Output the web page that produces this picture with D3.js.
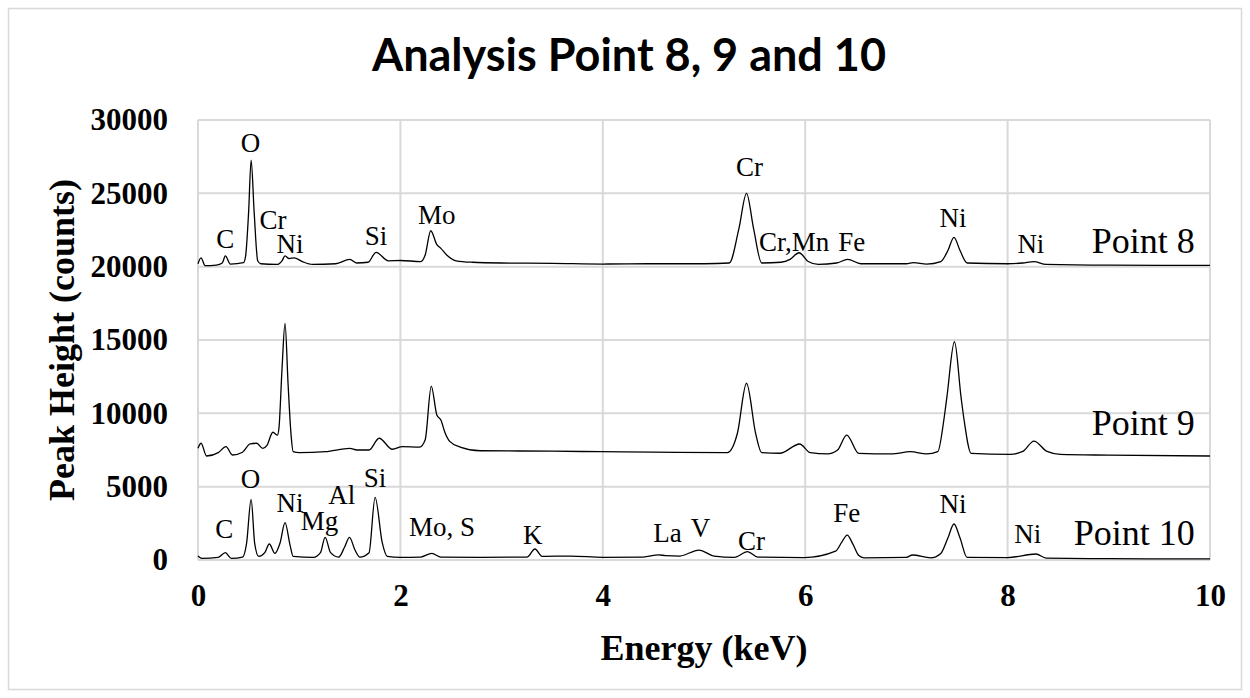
<!DOCTYPE html>
<html>
<head>
<meta charset="utf-8">
<script src="https://cdn.jsdelivr.net/npm/d3@7"></script>
<style>
  html, body { margin: 0; padding: 0; background: #fff; }
  svg { display: block; }
</style>
</head>
<body>
<svg id="chart" width="1250" height="698"></svg>
<script>
// EDS spectra: [energy keV, counts]
const point8 = [
  [0.00, 20200], [0.03, 20600], [0.07, 20070], [0.18, 20110], [0.24, 20250], [0.27, 20730],
  [0.32, 20180], [0.45, 20270], [0.47, 20700], [0.50, 23700], [0.525, 27270], [0.555, 23700],
  [0.59, 20400], [0.62, 20200], [0.78, 20150], [0.83, 20400], [0.86, 20730], [0.90, 20550],
  [0.95, 20600], [1.03, 20350], [1.13, 20150], [1.36, 20200], [1.50, 20500], [1.57, 20250],
  [1.68, 20300], [1.76, 20980], [1.88, 20400], [2.00, 20420], [2.20, 20350], [2.245, 20800],
  [2.30, 22450], [2.36, 21500], [2.40, 21250], [2.45, 20850], [2.55, 20400], [2.71, 20300],
  [3.00, 20250], [3.50, 20230], [4.00, 20180], [4.50, 20200], [5.00, 20200], [5.25, 20250],
  [5.345, 22600], [5.42, 25000], [5.49, 22600], [5.57, 20250], [5.76, 20300], [5.85, 20500],
  [5.94, 20950], [6.03, 20350], [6.13, 20150], [6.31, 20250], [6.42, 20500], [6.55, 20200],
  [7.00, 20200], [7.07, 20280], [7.20, 20180], [7.34, 20350], [7.41, 21100], [7.47, 22000],
  [7.53, 21100], [7.60, 20250], [8.00, 20200], [8.15, 20250], [8.26, 20340], [8.38, 20150],
  [9.00, 20100], [10.00, 20090]
];
const point9 = [
  [0.00, 7615], [0.03, 7960], [0.085, 7090], [0.20, 7320], [0.277, 7730], [0.34, 7160],
  [0.44, 7350], [0.515, 7910], [0.58, 7960], [0.64, 7615], [0.68, 7800], [0.74, 8710],
  [0.785, 8520], [0.80, 9000], [0.83, 13000], [0.86, 16140], [0.89, 12000], [0.92, 8500],
  [0.94, 7385], [1.00, 7320], [1.26, 7385], [1.50, 7615], [1.57, 7500], [1.69, 7500],
  [1.79, 8300], [1.92, 7550], [2.02, 7730], [2.19, 7700], [2.245, 8200], [2.305, 11860],
  [2.36, 9890], [2.40, 9545], [2.44, 8700], [2.49, 8070], [2.59, 7700], [2.79, 7450],
  [3.50, 7420], [3.98, 7385], [4.50, 7350], [5.23, 7320], [5.33, 8640], [5.42, 12050],
  [5.51, 8640], [5.57, 7320], [5.75, 7280], [5.945, 7910], [6.05, 7320], [6.22, 7230],
  [6.32, 7500], [6.41, 8520], [6.53, 7270], [6.85, 7230], [7.04, 7385], [7.20, 7230],
  [7.31, 7385], [7.37, 9545], [7.40, 11100], [7.475, 14880], [7.54, 11100], [7.57, 9545],
  [7.64, 7270], [8.02, 7200], [8.15, 7400], [8.26, 8110], [8.39, 7400], [8.52, 7200],
  [9.00, 7150], [10.00, 7090]
];
const point10 = [
  [0.00, 270], [0.04, 110], [0.20, 180], [0.27, 500], [0.33, 110], [0.44, 200], [0.48, 1140],
  [0.525, 4140], [0.56, 1140], [0.60, 250], [0.66, 500], [0.705, 1090], [0.76, 450],
  [0.81, 1140], [0.86, 2545], [0.91, 1000], [0.94, 250], [1.14, 180], [1.21, 500],
  [1.256, 1545], [1.31, 500], [1.39, 200], [1.45, 900], [1.497, 1545], [1.55, 700],
  [1.60, 200], [1.69, 500], [1.75, 4275], [1.82, 1200], [1.87, 250], [2.00, 180], [2.20, 200],
  [2.31, 455], [2.40, 200], [2.79, 180], [3.25, 200], [3.33, 750], [3.40, 250], [3.68, 270],
  [4.00, 180], [4.40, 200], [4.55, 350], [4.62, 300], [4.76, 270], [4.95, 680], [5.10, 270],
  [5.30, 180], [5.43, 570], [5.53, 200], [5.99, 160], [6.30, 600], [6.36, 1200],
  [6.415, 1700], [6.47, 1100], [6.53, 300], [6.58, 150], [7.00, 180], [7.06, 340],
  [7.24, 150], [7.34, 450], [7.41, 1500], [7.47, 2455], [7.53, 1500], [7.60, 180],
  [8.00, 160], [8.28, 410], [8.38, 130], [9.00, 90], [10.00, 70]
];

const xTicks = [0, 2, 4, 6, 8, 10];
const yTicks = [0, 5000, 10000, 15000, 20000, 25000, 30000];

// Peak annotations: [label, energy keV, counts at label baseline]
const peakLabels = [
  ["O", 0.52, 27800], ["C", 0.27, 21250], ["Cr", 0.74, 22600], ["Ni", 0.91, 20950],
  ["Si", 1.76, 21500], ["Mo", 2.36, 22930], ["Cr", 5.45, 26200], ["Cr,Mn", 5.89, 21100],
  ["Fe", 6.46, 21100], ["Ni", 7.46, 22730], ["Ni", 8.23, 20910],
  ["C", 0.26, 1480], ["O", 0.52, 4890], ["Ni", 0.91, 3290], ["Mg", 1.20, 2050],
  ["Al", 1.42, 3800], ["Si", 1.75, 5000], ["Mo, S", 2.41, 1640], ["K", 3.307, 1090],
  ["La", 4.64, 1250], ["V", 4.965, 1550], ["Cr", 5.47, 680], ["Fe", 6.41, 2620],
  ["Ni", 7.46, 3180], ["Ni", 8.20, 1140]
];
const seriesNames = [["Point 8", 20900], ["Point 9", 8520], ["Point 10", 1020]];

const svg = d3.select("#chart");
const margin = { left: 198, right: 40, top: 120, bottom: 138 };
const W = 1250, H = 698;

// outer frame
svg.append("rect")
  .attr("x", 8.5).attr("y", 8.5).attr("width", W - 17).attr("height", H - 17)
  .attr("fill", "#fff").attr("stroke", "#d9d9d9").attr("stroke-width", 1.5);

const x = d3.scaleLinear().domain([0, 10]).range([margin.left, W - margin.right]);
const y = d3.scaleLinear().domain([0, 30000]).range([H - margin.bottom, margin.top]);

// grid
const grid = svg.append("g").attr("stroke", "#d9d9d9").attr("stroke-width", 2);
grid.selectAll("line.h").data(yTicks).join("line")
  .attr("x1", x(0)).attr("x2", x(10)).attr("y1", d => y(d)).attr("y2", d => y(d));
grid.selectAll("line.v").data(xTicks).join("line")
  .attr("y1", y(0)).attr("y2", y(30000)).attr("x1", d => x(d)).attr("x2", d => x(d));

// axes (labels only)
const xAxis = svg.append("g")
  .attr("transform", `translate(0,${y(0)})`)
  .call(d3.axisBottom(x).tickValues(xTicks).tickSize(0).tickPadding(24).tickFormat(d3.format("d")));
const yAxis = svg.append("g")
  .attr("transform", `translate(${x(0)},0)`)
  .call(d3.axisLeft(y).tickValues(yTicks).tickSize(0).tickPadding(30).tickFormat(d3.format("d")));
[xAxis, yAxis].forEach(a => {
  a.select(".domain").remove();
  a.selectAll("text")
    .attr("font-family", "'Liberation Serif', 'Times New Roman', serif")
    .attr("font-weight", "bold").attr("font-size", 31).attr("fill", "#000");
});

// spectra
const line = d3.line().x(d => x(d[0])).y(d => y(d[1])).curve(d3.curveMonotoneX);
svg.append("g").selectAll("path").data([point8, point9, point10]).join("path")
  .attr("d", line).attr("fill", "none").attr("stroke", "#000").attr("stroke-width", 1.3);

// peak annotations
const serif = "'Liberation Serif', 'Times New Roman', serif";
svg.append("g").selectAll("text").data(peakLabels).join("text")
  .attr("x", d => x(d[1])).attr("y", d => y(d[2]))
  .attr("text-anchor", "middle").attr("font-family", serif).attr("font-size", 27)
  .text(d => d[0]);

svg.append("g").selectAll("text").data(seriesNames).join("text")
  .attr("x", x(9.85)).attr("y", d => y(d[1]))
  .attr("text-anchor", "end").attr("font-family", serif).attr("font-size", 36)
  .text(d => d[0]);

// titles
svg.append("text")
  .attr("x", 629).attr("y", 71).attr("text-anchor", "middle")
  .attr("font-family", "Lato, 'Open Sans', sans-serif").attr("font-weight", "bold")
  .attr("font-size", 45).text("Analysis Point 8, 9 and 10");

svg.append("text")
  .attr("x", (x(0) + x(10)) / 2).attr("y", 660).attr("text-anchor", "middle")
  .attr("font-family", serif).attr("font-weight", "bold").attr("font-size", 36)
  .text("Energy (keV)");

svg.append("text")
  .attr("transform", `translate(74,${(y(0) + y(30000)) / 2}) rotate(-90)`)
  .attr("text-anchor", "middle")
  .attr("font-family", serif).attr("font-weight", "bold").attr("font-size", 36)
  .text("Peak Height (counts)");
</script>
</body>
</html>
